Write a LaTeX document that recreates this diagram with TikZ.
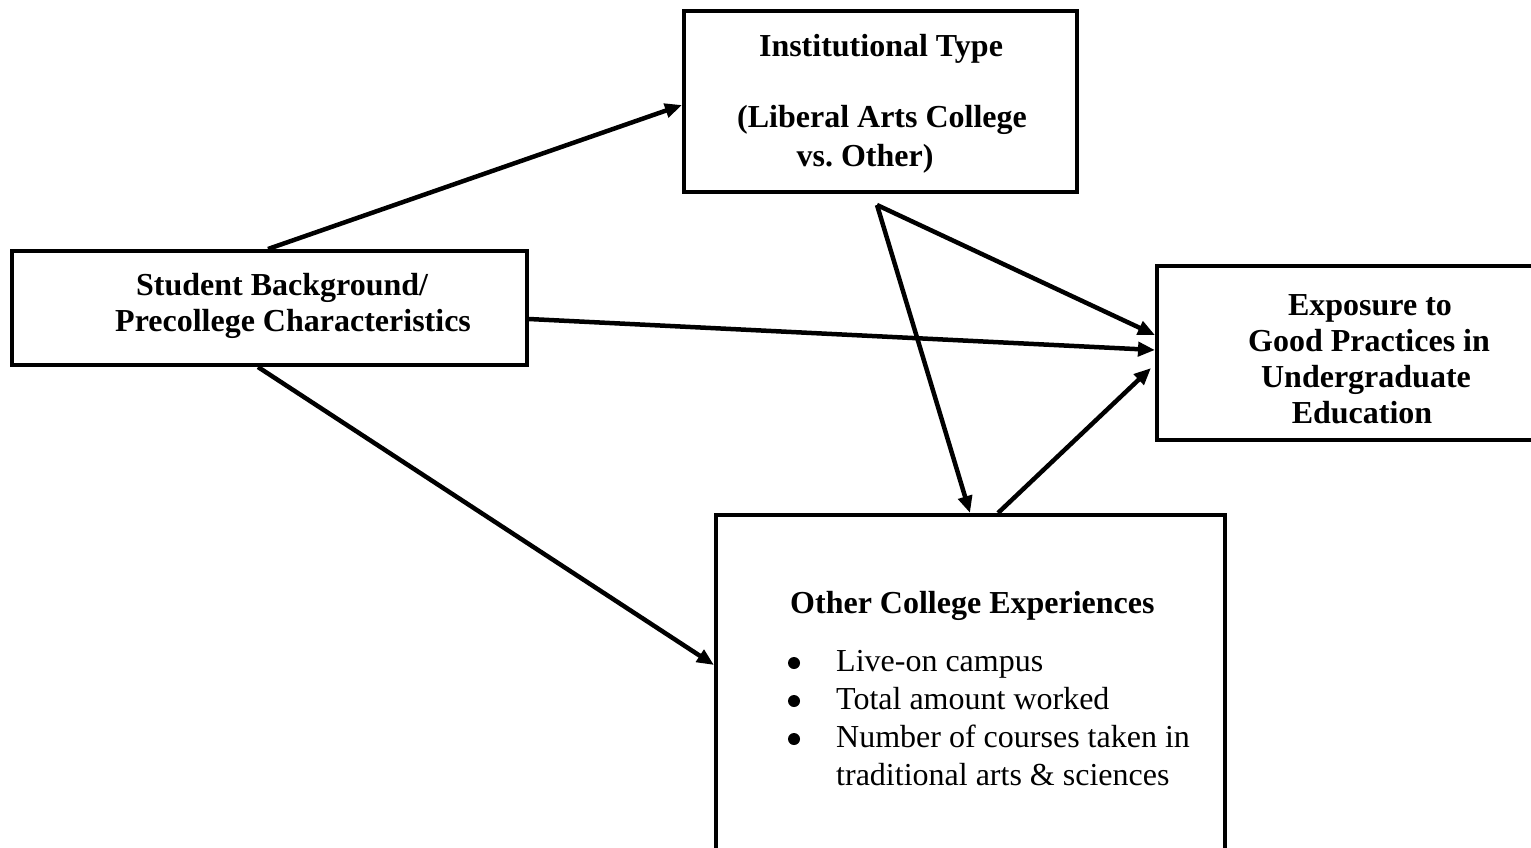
\documentclass[tikz,border=0pt]{standalone}
\usepackage{fontspec}
\setmainfont{Liberation Serif}
\usetikzlibrary{arrows.meta}
\tikzset{
  box/.style={draw, line width=4pt, rectangle, inner sep=0pt},
  txt/.style={inner sep=0pt, anchor=base, font=\fontsize{32}{37}\selectfont\bfseries},
  txtl/.style={inner sep=0pt, anchor=base west, font=\fontsize{32}{37}\selectfont\bfseries},
  item/.style={inner sep=0pt, anchor=base west, font=\fontsize{32}{37}\selectfont},
  bul/.style={circle, fill=black, inner sep=0pt, minimum size=12pt},
  arr/.style={line width=4.5pt, -{Triangle[length=17pt,width=14pt]}}
}
\begin{document}
\begin{tikzpicture}[x=1pt,y=-1pt]
\useasboundingbox (0,0) rectangle (1531,847);
\clip (0,0) rectangle (1531,847);
% boxes
\node[box, minimum width=393pt, minimum height=181pt] (inst) at (880.5,101.5) {};
\node[box, minimum width=515pt, minimum height=114pt] (stu) at (269.5,308) {};
\node[box, minimum width=403pt, minimum height=174pt] (exp) at (1358.5,353) {};
\node[box, minimum width=509pt, minimum height=365pt] (oth) at (970.5,697.5) {};
% texts
\node[txt] (t1) at (881,56) {Institutional Type};
\node[txt] (t2) at (882,127) {(Liberal Arts College};
\node[txt] (t3) at (865,166) {vs.\ Other)};
\node[txtl] (s1) at (136,295) {Student Background/};
\node[txtl] (s2) at (115,331) {Precollege Characteristics};
\node[txt] (e1) at (1370,315) {Exposure to};
\node[txt] (e2) at (1369,351) {Good Practices in};
\node[txt] (e3) at (1366,387) {Undergraduate};
\node[txt] (e4) at (1362,423) {Education};
\node[txtl] (o0) at (790,613) {Other College Experiences};
\node[bul] (b1) at (794,663) {};
\node[bul] (b2) at (794,701) {};
\node[bul] (b3) at (794,739) {};
\node[item] (o1) at (836,671) {Live-on campus};
\node[item] (o2) at (836,709) {Total amount worked};
\node[item] (o3) at (836,747) {Number of courses taken in};
\node[item] (o4) at (836,785) {traditional arts \& sciences};
% connectors
\coordinate (src) at ([xshift=-3.5pt,yshift=-11pt]inst.south);
\draw[arr] ([xshift=258pt]stu.north west) -- ([yshift=-96pt]inst.north west);
\draw[arr] ([yshift=-11pt]stu.east) -- ([yshift=3pt]exp.west);
\draw[arr] ([xshift=248pt]stu.south west) -- ([yshift=-152pt]oth.north west);
\draw[arr] (src) -- ([yshift=-71pt]exp.north west);
\draw[arr] (src) -- ([xshift=256pt]oth.north west);
\draw[arr] ([xshift=284pt]oth.north west) -- ([xshift=-4pt,yshift=-104pt]exp.north west);
\end{tikzpicture}
\end{document}
